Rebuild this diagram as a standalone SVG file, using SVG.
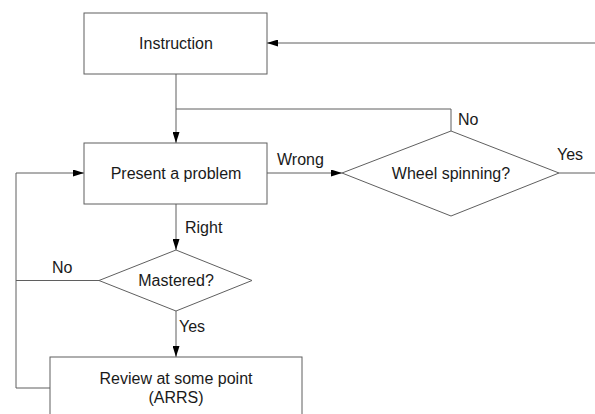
<svg xmlns="http://www.w3.org/2000/svg" width="595" height="414" viewBox="0 0 595 414">
<style>
.box{fill:#fff;stroke:#5f5f5f;stroke-width:1}
.ln{fill:none;stroke:#5f5f5f;stroke-width:1}
text{font-family:"Liberation Sans",Arial,sans-serif;font-size:16px;fill:#1a1a1a}
.c{text-anchor:middle}
</style>
<defs>
<marker id="ah" markerWidth="11" markerHeight="7" refX="11" refY="3.5" orient="auto" markerUnits="userSpaceOnUse">
<path d="M0,0 L11,3.5 L0,7 Z" fill="#000"/>
</marker>
</defs>
<rect width="595" height="414" fill="#fff"/>
<g id="connectors">
<path class="ln" d="M595,43 H267" marker-end="url(#ah)"/>
<path class="ln" d="M176,74 V143" marker-end="url(#ah)"/>
<path class="ln" d="M451,131 V109 H176"/>
<path class="ln" d="M267,173 H342" marker-end="url(#ah)"/>
<path class="ln" d="M559,173 H595"/>
<path class="ln" d="M176,204 V250" marker-end="url(#ah)"/>
<path class="ln" d="M99,280.5 H16"/>
<path class="ln" d="M50,388 H16 V173 H84" marker-end="url(#ah)"/>
<path class="ln" d="M176,311 V357" marker-end="url(#ah)"/>
</g>
<g id="instruction">
<rect class="box" x="84" y="13" width="183" height="61"/>
<text class="c" x="176" y="49">Instruction</text>
</g>
<g id="present">
<rect class="box" x="84" y="143" width="183" height="61"/>
<text class="c" x="176" y="179">Present a problem</text>
</g>
<g id="wheel">
<polygon class="box" points="342,173 451,131 559,173 451,216"/>
<text class="c" x="451" y="179">Wheel spinning?</text>
</g>
<g id="mastered">
<polygon class="box" points="99,280.5 176,250 252,280.5 176,311"/>
<text class="c" x="176" y="286">Mastered?</text>
</g>
<g id="review">
<rect class="box" x="50" y="357" width="252" height="70"/>
<text class="c" x="176" y="384">Review at some point</text>
<text class="c" x="176" y="403">(ARRS)</text>
</g>
<g id="labels">
<text x="277" y="165">Wrong</text>
<text x="458" y="125">No</text>
<text x="557" y="160">Yes</text>
<text x="185" y="233">Right</text>
<text x="52" y="273">No</text>
<text x="179" y="332">Yes</text>
</g>
</svg>
